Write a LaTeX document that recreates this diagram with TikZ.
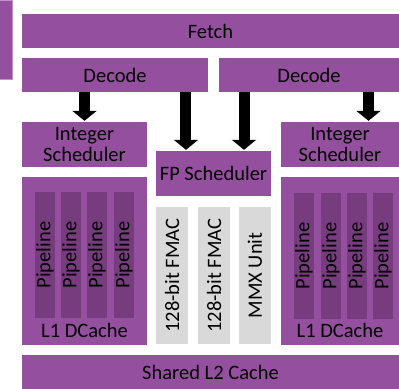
\documentclass[tikz,border=0pt]{standalone}
\usepackage{fontspec}
\setmainfont{Carlito}
\usepackage{tikz}
\usetikzlibrary{arrows.meta, positioning}
\definecolor{bdpurple}{RGB}{149,79,159}
\definecolor{bddark}{RGB}{118,60,126}
\definecolor{bdgrey}{RGB}{217,217,217}
\definecolor{bdedge}{RGB}{192,145,198}
\tikzstyle{pbox} = [rectangle, fill=bdpurple, text=black, inner sep=0pt, align=center]
\tikzstyle{pipe} = [rectangle, fill=bddark, text=black, inner sep=0pt, rotate=90, minimum width=126bp, minimum height=20bp]
\tikzstyle{unit} = [rectangle, fill=bdgrey, text=black, inner sep=0pt, rotate=90, minimum width=137bp, minimum height=32bp]
\tikzstyle{lbl} = [text=black, inner sep=0pt]
\tikzstyle{bigarrow} = [draw=black, line width=11bp, -{Triangle[length=10bp, width=24bp]}, shorten >=1bp]

\begin{document}
\begin{tikzpicture}[x=1bp, y=-1bp, font=\fontsize{20.5bp}{21.5bp}\selectfont]
			\useasboundingbox (0, 0) rectangle (399, 389);
			\node [pbox, draw=bdedge, line width=1bp, minimum width=12bp, minimum height=79bp] (side) at (6, 39.5) {};
			
			\node [pbox, minimum width=377bp, minimum height=34bp] (fetch) at (210.5, 31) {Fetch};
			\node [pbox, minimum width=186bp, minimum height=34bp] (decL) at (115, 75) {Decode};
			\node [pbox, minimum width=180bp, minimum height=34bp] (decR) at (309, 75) {Decode};
			
			\node [pbox, minimum width=125bp, minimum height=45bp] (intL) at (84.5, 144.5) {Integer\\Scheduler};
			\node [pbox, minimum width=118bp, minimum height=45bp] (intR) at (340, 144.5) {Integer\\Scheduler};
			\node [pbox, minimum width=115bp, minimum height=45bp] (fp) at (213.5, 173.5) {FP Scheduler};
			
			\node [pbox, minimum width=125bp, minimum height=168bp] (coreL) at (84.5, 261) {};
			\node [pbox, minimum width=118bp, minimum height=168bp] (coreR) at (340, 261) {};
			\node [lbl, above=7bp of coreL.south] (l1L) {L1 DCache};
			\node [lbl, above=7bp of coreR.south] (l1R) {L1 DCache};
			
			\node [pipe] (pipeL1) at (45, 255) {Pipeline};
			\node [pipe] (pipeL2) at (71, 255) {Pipeline};
			\node [pipe] (pipeL3) at (97, 255) {Pipeline};
			\node [pipe] (pipeL4) at (124, 255) {Pipeline};
			\node [pipe] (pipeR1) at (304, 256) {Pipeline};
			\node [pipe] (pipeR2) at (331, 256) {Pipeline};
			\node [pipe] (pipeR3) at (357, 256) {Pipeline};
			\node [pipe] (pipeR4) at (383, 256) {Pipeline};
			
			\node [unit] (fmacA) at (172, 275.5) {128-bit FMAC};
			\node [unit] (fmacB) at (214, 275.5) {128-bit FMAC};
			\node [unit] (mmx) at (255, 275.5) {MMX Unit};
			
			\node [pbox, minimum width=377bp, minimum height=34bp] (l2) at (210.5, 372) {Shared L2 Cache};
			
			\path [bigarrow] (decL.south -| intL.north) -- (intL.north);
			\path [bigarrow] ([xshift=-27.5bp]fp.north |- decL.south) -- ([xshift=-27.5bp]fp.north);
			\path [bigarrow] ([xshift=30.5bp]fp.north |- decR.south) -- ([xshift=30.5bp]fp.north);
			\path [bigarrow] ([xshift=28.5bp]intR.north |- decR.south) -- ([xshift=28.5bp]intR.north);
		\end{tikzpicture}
\end{document}
